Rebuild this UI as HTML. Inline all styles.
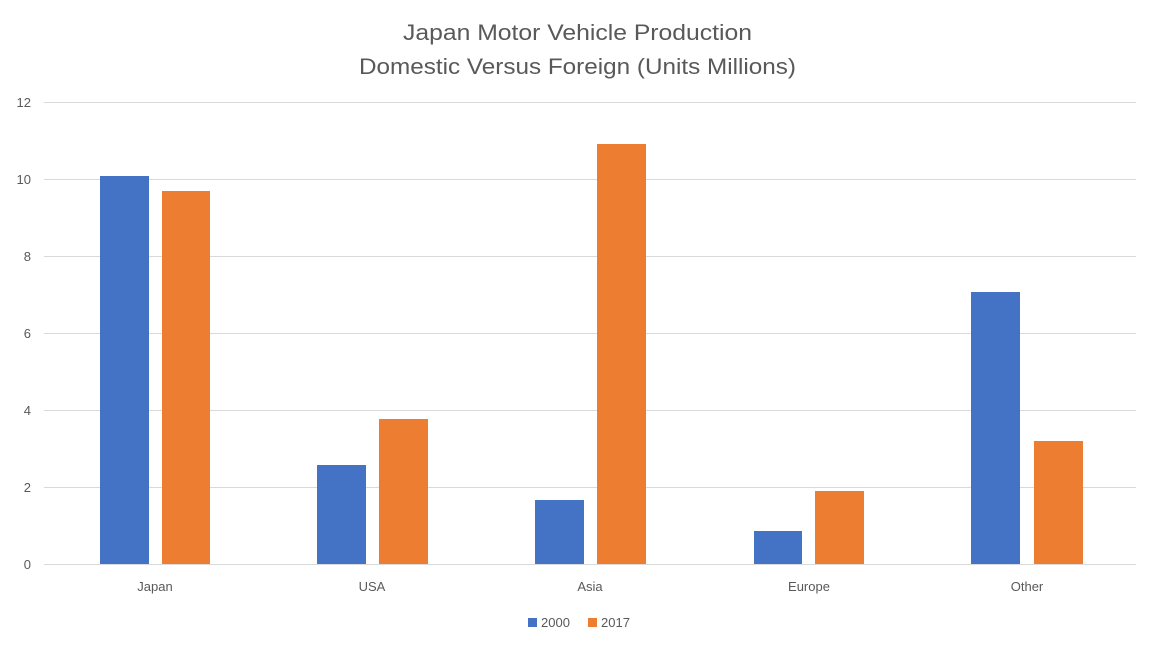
<!DOCTYPE html>
<html><head><meta charset="utf-8"><style>
html,body{margin:0;padding:0;background:#fff;}
svg text{font-family:"Liberation Sans",sans-serif;fill:#595959;}
</style></head><body>
<svg width="1152" height="648" viewBox="0 0 1152 648" xmlns="http://www.w3.org/2000/svg">
<rect width="1152" height="648" fill="#fff"/>
<text x="403" y="40" font-size="22" textLength="349" lengthAdjust="spacingAndGlyphs">Japan Motor Vehicle Production</text>
<text x="359" y="74" font-size="22" textLength="437" lengthAdjust="spacingAndGlyphs">Domestic Versus Foreign (Units Millions)</text>
<g stroke="#d9d9d9" stroke-width="1">
<line x1="44" x2="1136" y1="102.5" y2="102.5"/>
<line x1="44" x2="1136" y1="179.5" y2="179.5"/>
<line x1="44" x2="1136" y1="256.5" y2="256.5"/>
<line x1="44" x2="1136" y1="333.5" y2="333.5"/>
<line x1="44" x2="1136" y1="410.5" y2="410.5"/>
<line x1="44" x2="1136" y1="487.5" y2="487.5"/>
<line x1="44" x2="1136" y1="564.5" y2="564.5"/>
</g>
<g font-size="13" text-anchor="end">
<text x="31" y="107">12</text>
<text x="31" y="184">10</text>
<text x="31" y="261">8</text>
<text x="31" y="338">6</text>
<text x="31" y="415">4</text>
<text x="31" y="492">2</text>
<text x="31" y="569">0</text>
</g>
<g fill="#4472C4">
<rect x="100" y="176" width="49" height="388"/>
<rect x="317" y="465" width="49" height="99"/>
<rect x="535" y="500" width="49" height="64"/>
<rect x="754" y="531" width="48" height="33"/>
<rect x="971" y="292" width="49" height="272"/>
</g>
<g fill="#ED7D31">
<rect x="162" y="191" width="48" height="373"/>
<rect x="379" y="419" width="49" height="145"/>
<rect x="597" y="144" width="49" height="420"/>
<rect x="815" y="491" width="49" height="73"/>
<rect x="1034" y="441" width="49" height="123"/>
</g>
<g font-size="13" text-anchor="middle">
<text x="155" y="591">Japan</text>
<text x="372" y="591">USA</text>
<text x="590" y="591">Asia</text>
<text x="809" y="591">Europe</text>
<text x="1027" y="591">Other</text>
</g>
<rect x="528" y="618" width="9" height="9" fill="#4472C4"/>
<text x="541" y="627" font-size="13">2000</text>
<rect x="588" y="618" width="9" height="9" fill="#ED7D31"/>
<text x="601" y="627" font-size="13">2017</text>
</svg>
</body></html>
